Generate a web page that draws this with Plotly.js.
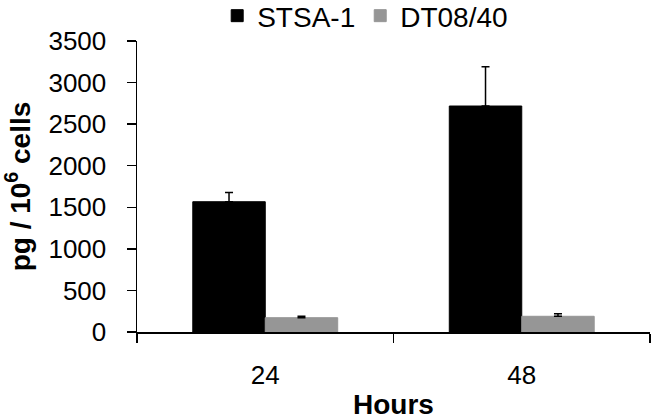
<!DOCTYPE html>
<html>
<head>
<meta charset="utf-8">
<script src="https://cdn.plot.ly/plotly-3.0.1.min.js"></script>
<style>html,body{margin:0;padding:0;background:#fff;}#chart{width:658px;height:420px;}</style>
</head>
<body>
<div id="chart"></div>
<script>
var categories = ["24", "48"];
var stsaValues = [1567, 2718];
var stsaErrors = [110, 473];
var dtValues = [172, 189];
var dtErrors = [17, 30];
var seriesNames = ["STSA-1", "DT08/40"];
var yTicks = [0, 500, 1000, 1500, 2000, 2500, 3000, 3500];

var font = "Liberation Sans, Arial, sans-serif";

var traces = [
  {
    type: "bar", name: seriesNames[0], x: categories, y: stsaValues,
    marker: {color: "#000000", line: {color: "#000000", width: 1}},
    error_y: {type: "data", array: stsaErrors, symmetric: false, arrayminus: [0,0], color: "#000000", thickness: 1.5, width: 4}
  },
  {
    type: "bar", name: seriesNames[1], x: categories, y: dtValues,
    marker: {color: "#969696", line: {color: "#969696", width: 1}},
    error_y: {type: "data", array: dtErrors, symmetric: false, arrayminus: [0,0], color: "#000000", thickness: 1.5, width: 4}
  }
];

var layout = {
  width: 658, height: 420,
  margin: {l: 137, r: 8, t: 41, b: 88, pad: 0},
  paper_bgcolor: "#ffffff", plot_bgcolor: "#ffffff",
  font: {family: font, color: "#000000", size: 25},
  barmode: "group", bargap: 0.435, bargroupgap: 0,
  showlegend: true,
  legend: {orientation: "h", x: 0.555, xanchor: "center", y: 0.962, yanchor: "middle", yref: "container", xref: "container",
           font: {family: font, size: 28}, traceorder: "normal", tracegroupgap: 0, itemwidth: 30},
  xaxis: {
    type: "category", showline: true, linecolor: "#000000", linewidth: 1.5,
    ticks: "outside", tickson: "boundaries", ticklen: 9, tickcolor: "#000000", tickwidth: 1.5,
    showgrid: false, zeroline: false,
    tickfont: {family: font, size: 26},
    ticklabelstandoff: 19,
    title: {text: "<b>Hours</b>", font: {family: font, size: 28}, standoff: 6}
  },
  yaxis: {
    range: [0, 3500], tickvals: yTicks, ticktext: yTicks.map(String),
    showline: true, linecolor: "#000000", linewidth: 1.5,
    ticks: "outside", ticklen: 9, tickcolor: "#000000", tickwidth: 1.5,
    showgrid: false, zeroline: false,
    tickfont: {family: font, size: 26},
    ticklabelstandoff: 15,
    title: {text: "<b>pg / 10<sup>6</sup> cells</b>", font: {family: font, size: 28}, standoff: 12}
  }
};

Plotly.newPlot("chart", traces, layout, {displayModeBar: false, staticPlot: true});
</script>
</body>
</html>
